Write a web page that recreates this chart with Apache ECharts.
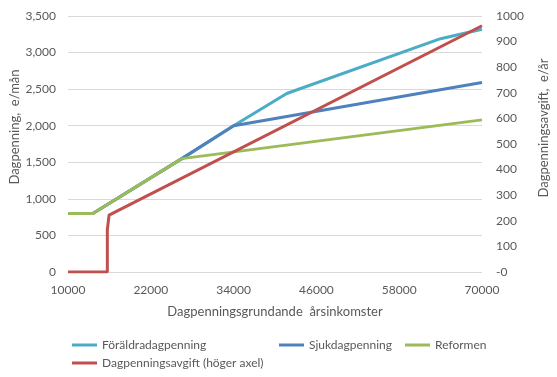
<!DOCTYPE html>
<html>
<head>
<meta charset="utf-8">
<script src="https://cdn.jsdelivr.net/npm/echarts@6/dist/echarts.min.js"></script>
<style>
html, body { margin: 0; padding: 0; background: #fff; }
#main { width: 557px; height: 377px; }
</style>
</head>
<body>
<div id="main"></div>
<script>
// income breakpoints (e/year) and values
var foraldraX = [10000, 13600, 26500, 34000, 41700, 64000, 70000];
var foraldraY = [800, 800, 1550, 2000, 2440, 3190, 3320];

var sjukX = [10000, 13600, 26500, 34000, 70000];
var sjukY = [800, 800, 1550, 2000, 2590];

var reformenX = [10000, 13600, 26500, 70000];
var reformenY = [800, 800, 1550, 2080];

var avgiftX = [10000, 15700, 15700, 15950, 15950, 70000];
var avgiftY = [0, 0, 165, 170, 222, 962];

var names = ['Föräldradagpenning', 'Sjukdagpenning', 'Reformen', 'Dagpenningsavgift (höger axel)'];
var colors = ['#4BACC6', '#4F81BD', '#9BBB59', '#C0504D'];

function zip(xs, ys) {
    var out = [];
    for (var i = 0; i < xs.length; i++) {
        out.push([xs[i], ys[i]]);
    }
    return out;
}

var font = 'Lato';
var txt = '#595959';

var myChart = echarts.init(document.getElementById('main'));

function legendAt(name, left, top) {
    return {
        data: [name],
        left: left,
        top: top,
        icon: 'rect',
        itemWidth: 25,
        itemHeight: 3,
        padding: 0,
        selectedMode: false,
        textStyle: { color: txt, fontFamily: font, fontSize: 12 }
    };
}

function lineSeries(i, data, yIndex) {
    return {
        name: names[i],
        type: 'line',
        yAxisIndex: yIndex,
        data: data,
        showSymbol: false,
        symbol: 'none',
        animation: false,
        lineStyle: { color: colors[i], width: 3 },
        itemStyle: { color: colors[i] }
    };
}

var option = {
    animation: false,
    grid: { left: 68, right: 75, top: 16, bottom: 105 },
    legend: [
        legendAt(names[0], 72, 339),
        legendAt(names[1], 279, 339),
        legendAt(names[2], 405, 339),
        legendAt(names[3], 72, 357)
    ],
    xAxis: {
        type: 'value',
        min: 10000,
        max: 70000,
        interval: 12000,
        name: 'Dagpenningsgrundande  årsinkomster',
        nameLocation: 'middle',
        nameGap: 33,
        nameTextStyle: { color: txt, fontFamily: font, fontSize: 13 },
        axisLine: { show: false },
        axisTick: { show: false },
        splitLine: { show: false },
        axisLabel: {
            color: txt, fontFamily: font, fontSize: 12, margin: 12,
            formatter: function(v) { return String(v); }
        }
    },
    yAxis: [{
        type: 'value',
        min: 0,
        max: 3500,
        interval: 500,
        axisLine: { show: false },
        axisTick: { show: false },
        splitLine: { lineStyle: { color: '#D9D9D9', width: 1 } },
        axisLabel: {
            color: txt, fontFamily: font, fontSize: 12, margin: 12,
            formatter: function(v) { return v.toLocaleString('en-US'); }
        }
    }, {
        type: 'value',
        min: 0,
        max: 1000,
        interval: 100,
        position: 'right',
        axisLine: { show: false },
        axisTick: { show: false },
        splitLine: { show: false },
        axisLabel: {
            color: txt, fontFamily: font, fontSize: 12, margin: 14,
            formatter: function(v) { return v === 0 ? '-0' : String(v); }
        }
    }],
    graphic: [{
        type: 'text',
        x: 15,
        y: 127,
        rotation: Math.PI / 2,
        style: {
            text: 'Dagpenning,  e/mån',
            fill: txt,
            font: '13px Lato',
            align: 'center',
            verticalAlign: 'middle'
        }
    }, {
        type: 'text',
        x: 544,
        y: 128,
        rotation: Math.PI / 2,
        style: {
            text: 'Dagpenningsavgift,  e/år',
            fill: txt,
            font: '13px Lato',
            align: 'center',
            verticalAlign: 'middle'
        }
    }],
    series: [
        lineSeries(0, zip(foraldraX, foraldraY), 0),
        lineSeries(1, zip(sjukX, sjukY), 0),
        lineSeries(2, zip(reformenX, reformenY), 0),
        lineSeries(3, zip(avgiftX, avgiftY), 1)
    ]
};

myChart.setOption(option);
</script>
</body>
</html>
